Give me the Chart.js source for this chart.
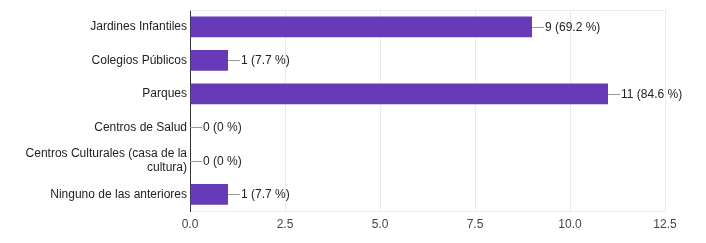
<!DOCTYPE html>
<html>
<head>
<meta charset="utf-8">
<script src="https://cdn.jsdelivr.net/npm/chart.js@4"></script>
<style>
  html, body { margin: 0; padding: 0; background: #fff; }
  #wrap { width: 706px; height: 243px; position: relative; }
</style>
</head>
<body>
<div id="wrap"><canvas id="myChart"></canvas></div>
<script>
// data
const categories = [
  'Jardines Infantiles',
  'Colegios Públicos',
  'Parques',
  'Centros de Salud',
  ['Centros Culturales (casa de la', 'cultura)'],
  'Ninguno de las anteriores'
];
const counts = [9, 1, 11, 0, 0, 1];
const percents = ['69.2', '7.7', '84.6', '0', '0', '7.7'];
const xTicks = [0, 2.5, 5, 7.5, 10, 12.5];

const barColor = '#673ab7';
const fontFamily = 'Arial, "Liberation Sans", sans-serif';

// leader line + "n (p %)" after each bar
const valueLabels = {
  id: 'valueLabels',
  afterDatasetsDraw(chart) {
    const ctx = chart.ctx;
    const meta = chart.getDatasetMeta(0);
    ctx.save();
    ctx.font = '12px ' + fontFamily;
    ctx.textBaseline = 'middle';
    meta.data.forEach((bar, i) => {
      const x = Math.round(bar.x);
      const y = Math.round(bar.y) + 0.5;
      ctx.strokeStyle = '#999';
      ctx.lineWidth = 1;
      ctx.beginPath();
      ctx.moveTo(x, y);
      ctx.lineTo(x + 12, y);
      ctx.stroke();
      ctx.fillStyle = '#222';
      ctx.fillText(counts[i] + ' (' + percents[i] + ' %)', x + 13, y);
    });
    ctx.restore();
  }
};

// light line on top edge of plot
const frame = {
  id: 'frame',
  beforeDatasetsDraw(chart) {
    const a = chart.chartArea;
    const ctx = chart.ctx;
    ctx.save();
    ctx.strokeStyle = '#ebebeb';
    ctx.lineWidth = 1;
    ctx.beginPath();
    ctx.moveTo(a.left, Math.round(a.top) + 0.5);
    ctx.lineTo(a.right, Math.round(a.top) + 0.5);
    ctx.stroke();
    ctx.restore();
  }
};

const config = {
  type: 'bar',
  data: {
    labels: categories,
    datasets: [{
      data: counts,
      backgroundColor: barColor,
      borderWidth: 0,
      barPercentage: 0.62,
      categoryPercentage: 1.0
    }]
  },
  options: {
    indexAxis: 'y',
    responsive: true,
    maintainAspectRatio: false,
    animation: false,
    layout: { padding: { top: 4, right: 41, left: 0, bottom: 0 } },
    plugins: {
      legend: { display: false },
      tooltip: { enabled: false }
    },
    scales: {
      x: {
        min: 0,
        max: 12.5,
        afterBuildTicks: (axis) => { axis.ticks = xTicks.map(v => ({ value: v })); },
        afterFit: (axis) => { axis.height = 32; },
        grid: { color: '#ebebeb', drawTicks: false },
        border: { display: true, color: '#ebebeb' },
        ticks: {
          padding: 6,
          color: '#444',
          font: { family: fontFamily, size: 12 },
          callback: (v) => Number(v).toFixed(1)
        }
      },
      y: {
        afterFit: (axis) => { axis.width = 190; },
        grid: { color: 'transparent', drawTicks: false },
        border: { display: true, color: '#333', width: 1 },
        ticks: {
          padding: 3,
          color: '#222',
          font: { family: fontFamily, size: 12 }
        }
      }
    }
  },
  plugins: [frame, valueLabels]
};

const myChart = new Chart(document.getElementById('myChart'), config);
</script>
</body>
</html>
